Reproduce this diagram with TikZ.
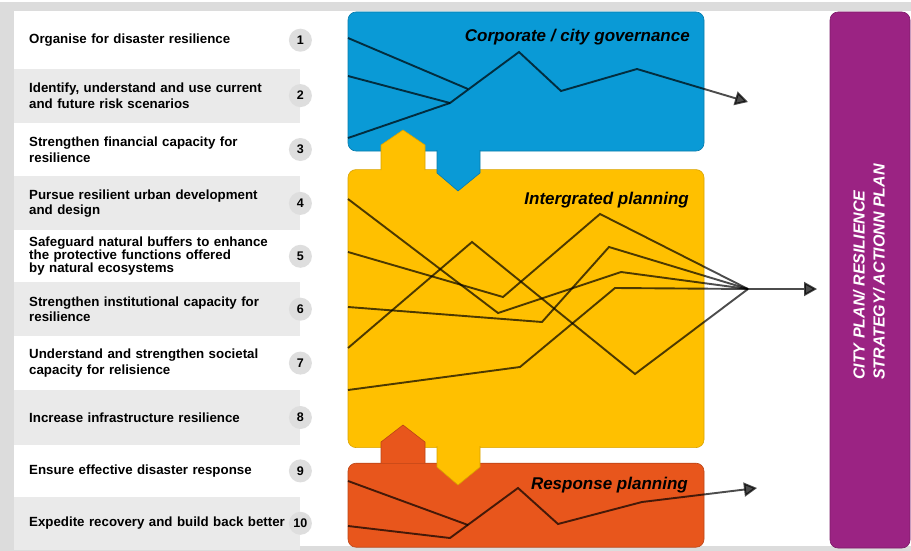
\documentclass[tikz,border=0pt]{standalone}
\usepackage{fontspec}
\setmainfont{Liberation Sans}
\usepackage{xcolor}
\usepackage{tikz}
\usetikzlibrary{positioning, arrows.meta}
\definecolor{govblue}{HTML}{0A9AD6}
\definecolor{planyellow}{HTML}{FFC000}
\definecolor{resporange}{HTML}{E8561C}
\definecolor{cityplum}{HTML}{9B2383}
\definecolor{rowgray}{HTML}{EAEAEA}
\definecolor{numgray}{HTML}{DEDEDE}
\definecolor{framegray}{HTML}{DCDCDC}

\begin{document}
\begin{tikzpicture}[x=1pt, y=-1pt,
    item/.style={rectangle, minimum width=286pt, text width=256pt, inner xsep=15pt, inner ysep=0pt, align=left, font=\bfseries\fontsize{13.3}{15.5}\selectfont},
    tight/.style={font=\bfseries\fontsize{13.3}{13}\selectfont},
    num/.style={circle, fill=numgray, minimum size=23pt, inner sep=0pt, font=\bfseries\fontsize{12.5}{14}\selectfont},
    panel/.style={rectangle, rounded corners=8pt, minimum width=356pt, line width=0.6pt},
    title/.style={anchor=base east, inner sep=0pt, font=\bfseries\itshape\fontsize{17}{20}\selectfont},
    link/.style={line width=0.6pt, line join=miter},
    trace/.style={line width=1.9pt, black, opacity=0.7, line join=miter},
    flow/.style={trace, -{Triangle[length=13pt, width=14pt]}}
  ]

    \useasboundingbox (0,0) rectangle (911,551);
    \fill[white] (0,0) rectangle (911,551);
    \fill[framegray] (0,2) rectangle (911,11);
    \fill[framegray] (0,2) rectangle (14,551);
    \fill[framegray] (0,546) rectangle (911,551);

    % list of the ten essentials
    \node[item, minimum height=56pt, anchor=north west] (r1) at (14,12) {Organise for disaster resilience};
    \node[item, fill=rowgray, minimum height=54pt, below=0pt of r1] (r2) {Identify, understand and use current\\and future risk scenarios};
    \node[item, minimum height=53pt, below=0pt of r2] (r3) {Strengthen financial capacity for\\resilience};
    \node[item, fill=rowgray, minimum height=54pt, below=0pt of r3] (r4) {Pursue resilient urban development\\and design};
    \node[item, tight, minimum height=51pt, below=0pt of r4] (r5) {Safeguard natural buffers to enhance\\the protective functions offered\\by natural ecosystems};
    \node[item, fill=rowgray, minimum height=54pt, below=0pt of r5] (r6) {Strengthen institutional capacity for\\resilience};
    \node[item, minimum height=53pt, below=0pt of r6] (r7) {Understand and strengthen societal\\capacity for relisience};
    \node[item, fill=rowgray, minimum height=55pt, below=0pt of r7] (r8) {Increase infrastructure resilience};
    \node[item, minimum height=51pt, below=0pt of r8] (r9) {Ensure effective disaster response};
    \node[item, fill=rowgray, minimum height=53pt, below=0pt of r9] (r10) {Expedite recovery and build back better};

    \foreach \i in {1,...,10}
      \node[num] (n\i) at (r\i.east) {\i};

    % planning panels
    \node[panel, fill=govblue, draw=govblue!80!black, minimum height=139pt] (gov) at (526,81.5) {};
    \node[panel, fill=planyellow, draw=planyellow!85!black, minimum height=278pt, below=18pt of gov] (plan) {};
    \node[panel, fill=resporange, draw=resporange!80!black, minimum height=84pt, below=15pt of plan] (resp) {};
    \node[panel, fill=cityplum, draw=cityplum!80!black, minimum width=80pt, minimum height=536pt] (cityplan) at (870,280) {};

    % exchange between the panels
    \filldraw[link, fill=planyellow, draw=planyellow!85!black] (381,170) -- (381,145) -- (403,130) -- (425,145) -- (425,170);
    \filldraw[link, fill=govblue, draw=govblue!80!black] (437,150) -- (437,173) -- (458,191) -- (480,173) -- (480,150);
    \filldraw[link, fill=resporange, draw=resporange!80!black] (381,463) -- (381,442) -- (403,425) -- (425,442) -- (425,463);
    \filldraw[link, fill=planyellow, draw=planyellow!85!black] (437,446) -- (437,467) -- (458,485) -- (480,467) -- (480,446);

    \node[title] (govtitle) at (690,42) {Corporate / city governance};
    \node[title] (plantitle) at (689,204) {Intergrated planning};
    \node[title] (resptitle) at (688,489) {Response planning};

    \node[rotate=90, white, align=left, inner sep=0pt, font=\bfseries\itshape\fontsize{16}{20}\selectfont] (citytitle) at (869,272) {CITY PLAN/ RESILIENCE\\STRATEGY/ ACTIONN PLAN};

    % governance traces
    \coordinate (g1) at (348,38);
    \coordinate (g2) at (348,76);
    \coordinate (g3) at (348,138);
    \coordinate (govout) at (748,102);
    \draw[trace] (g1) -- (468,89);
    \draw[trace] (g2) -- (450,103);
    \draw[flow] (g3) -- (450,103) -- (519,52) -- (561,91) -- (637,69) -- (govout);

    % integrated planning traces
    \coordinate (p1) at (348,199);
    \coordinate (p2) at (348,252);
    \coordinate (p3) at (348,307);
    \coordinate (p4) at (348,348);
    \coordinate (p5) at (348,390);
    \coordinate (hub) at (748,289);
    \coordinate (planout) at (817,289);
    \draw[trace] (p1) -- (498,313) -- (621,272) -- (hub);
    \draw[trace] (p2) -- (503,297) -- (600,214) -- (hub);
    \draw[trace] (p3) -- (542,322) -- (609,247) -- (hub);
    \draw[trace] (p4) -- (472,242) -- (635,374) -- (hub);
    \draw[trace] (p5) -- (520,367) -- (615,288) -- (hub);
    \draw[flow] (hub) -- (planout);

    % response traces
    \coordinate (q1) at (348,481);
    \coordinate (q2) at (348,526);
    \coordinate (respout) at (757,488);
    \draw[trace] (q1) -- (468,525);
    \draw[flow] (q2) -- (450,538) -- (518,488) -- (558,524) -- (642,502) -- (respout);

  \end{tikzpicture}
\end{document}
